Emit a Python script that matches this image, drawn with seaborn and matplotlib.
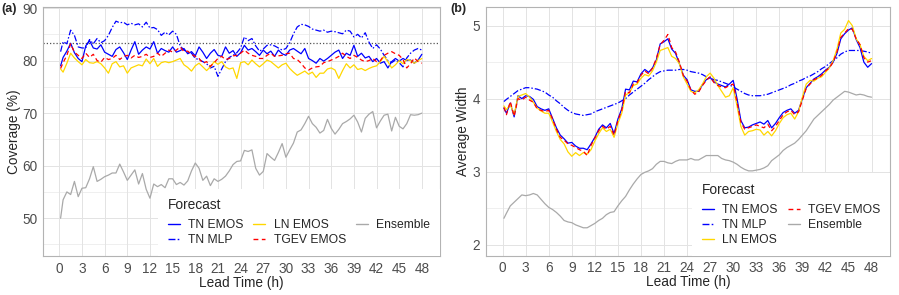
import numpy as np
import pandas as pd
import matplotlib
matplotlib.use("Agg")
import matplotlib.pyplot as plt
import seaborn as sns
from matplotlib.lines import Line2D
from matplotlib.ticker import MultipleLocator

sns.set_style("white")
plt.rcParams['font.family'] = ['Liberation Sans', 'DejaVu Sans']

# lead times (h): first value 10 min, then half-hourly to 48 h
lead = np.round(np.concatenate([[0.17], np.arange(1, 97) * 0.5]), 2)

forecasts = ["TN EMOS", "TN MLP", "LN EMOS", "TGEV EMOS", "Ensemble"]

# ---------------- panel (a): coverage (%) ----------------
cov_tn_emos = [79.0, 80.6, 81.8, 83.3, 81.5, 80.4, 79.8, 82.8, 83.8, 82.4,
               82.2, 83.0, 81.6, 81.2, 80.8, 82.1, 82.6, 81.5, 80.2, 82.0,
               83.6, 81.2, 82.0, 82.6, 82.2, 83.6, 81.4, 82.3, 81.9, 81.6,
               82.6, 81.6, 81.9, 82.3, 81.3, 81.7, 80.9, 82.6, 81.6, 80.4,
               81.4, 82.1, 81.0, 80.8, 82.6, 81.4, 81.9, 80.8, 81.5, 82.9,
               82.0, 82.3, 81.7, 81.0, 82.0, 81.3, 81.8, 80.8, 82.0, 81.3,
               81.0, 82.0, 82.3, 81.8, 81.3, 82.3, 80.4, 80.0, 79.5, 80.4,
               79.9, 80.4, 81.0, 81.6, 82.0, 80.4, 81.4, 81.0, 82.9, 80.8,
               81.4, 80.5, 80.8, 79.8, 80.4, 79.5, 79.8, 78.6, 79.8, 80.4,
               79.9, 80.4, 80.0, 80.1, 79.5, 80.1, 81.2]
cov_tn_mlp = [81.7, 83.6, 83.2, 85.8, 84.8, 82.6, 82.4, 82.4, 84.0, 83.2,
              84.2, 83.4, 83.8, 84.8, 86.3, 87.5, 87.2, 87.3, 86.8, 87.1,
              86.8, 87.0, 86.4, 87.3, 86.2, 86.3, 85.9, 84.8, 85.4, 84.9,
              85.6, 85.0, 82.8, 82.0, 81.6, 81.4, 80.4, 80.2, 79.8, 79.4,
              78.6, 78.9, 77.0, 78.4, 79.8, 80.6, 81.0, 81.5, 82.4, 84.5,
              83.8, 84.2, 82.8, 81.8, 82.2, 82.9, 83.0, 82.8, 82.4, 82.0,
              82.3, 83.4, 85.1, 86.4, 86.9, 86.8, 86.5, 86.0, 85.8, 85.6,
              85.8, 85.4, 85.6, 85.5, 85.3, 85.1, 85.8, 85.6, 84.5, 85.0,
              84.3, 85.3, 83.5, 82.3, 83.0, 82.2, 81.0, 80.0, 79.6, 80.1,
              79.6, 78.8, 80.5, 81.4, 82.0, 82.3, 82.0]
cov_ln_emos = [78.4, 77.8, 79.5, 81.4, 80.5, 79.8, 79.2, 80.2, 79.6, 79.5,
               79.8, 79.4, 78.6, 77.6, 79.4, 79.8, 78.8, 79.0, 77.6, 78.6,
               78.9, 79.2, 79.0, 80.3, 79.4, 80.4, 78.9, 79.6, 79.8, 79.6,
               79.8, 80.1, 80.4, 79.2, 78.7, 78.0, 79.0, 79.5, 78.8, 78.1,
               78.8, 79.8, 79.3, 79.8, 78.8, 78.4, 78.6, 76.6, 79.6, 79.8,
               79.2, 80.1, 79.4, 78.8, 79.4, 80.1, 79.8, 79.2, 78.6, 79.2,
               79.5, 78.5, 77.8, 77.2, 77.6, 78.0, 77.4, 77.8, 76.8, 77.6,
               77.6, 78.4, 78.6, 78.2, 76.6, 78.1, 79.4, 78.6, 79.2, 78.3,
               78.5, 78.1, 78.5, 78.8, 79.0, 79.8, 80.8, 79.8, 78.6, 79.2,
               80.0, 79.4, 80.2, 80.0, 79.5, 80.0, 80.4]
cov_tgev_emos = [78.5, 79.6, 81.0, 83.2, 81.6, 81.0, 80.4, 81.4, 80.6, 81.2,
                 80.0, 79.7, 80.6, 80.2, 80.4, 81.0, 80.2, 80.8, 81.0, 80.5,
                 81.0, 80.6, 80.8, 81.2, 80.6, 80.8, 81.4, 80.8, 81.4, 82.0,
                 81.6, 82.0, 82.6, 81.7, 81.8, 81.2, 80.8, 80.4, 79.5, 79.8,
                 78.9, 79.6, 80.4, 80.8, 80.2, 80.4, 80.9, 81.0, 81.4, 82.0,
                 81.4, 81.0, 80.8, 80.4, 80.4, 81.0, 81.4, 80.8, 80.9, 81.0,
                 81.3, 81.4, 80.4, 80.2, 79.5, 78.6, 78.2, 78.6, 78.8, 78.9,
                 79.6, 79.8, 80.1, 80.4, 80.8, 81.4, 80.8, 80.4, 81.0, 80.6,
                 80.1, 79.8, 80.0, 80.4, 79.8, 80.0, 81.0, 81.4, 81.7, 81.3,
                 81.0, 80.2, 78.6, 79.4, 80.5, 79.8, 79.5]
cov_ensemble = [50.0, 53.5, 55.0, 54.5, 57.0, 54.1, 55.7, 55.8, 57.5, 59.8,
                57.0, 57.4, 57.9, 58.2, 58.6, 58.6, 60.3, 58.8, 57.2, 58.2,
                59.2, 56.5, 58.5, 55.5, 53.8, 56.5, 56.0, 56.4, 55.8, 57.5,
                57.5, 56.4, 56.8, 56.3, 57.1, 59.0, 60.5, 59.5, 57.2, 58.0,
                56.2, 57.5, 57.0, 57.4, 58.0, 59.0, 60.2, 60.8, 60.9, 62.9,
                62.7, 63.0, 59.5, 58.2, 58.9, 62.3, 61.6, 61.0, 62.5, 64.2,
                61.6, 63.0, 64.3, 66.4, 66.8, 68.0, 69.4, 68.0, 67.3, 66.2,
                66.7, 68.8, 67.1, 66.0, 66.9, 68.0, 68.4, 68.9, 69.6, 68.3,
                66.4, 69.0, 69.8, 70.3, 67.2, 68.5, 69.6, 69.8, 66.6, 69.2,
                67.5, 67.0, 68.0, 69.7, 69.6, 69.7, 70.0]
nominal_coverage = 83.33

# ---------------- panel (b): average width ----------------
wid_tn_emos = [3.87, 3.80, 3.94, 3.75, 4.04, 4.00, 4.04, 4.03, 3.99, 3.89,
               3.86, 3.84, 3.86, 3.73, 3.60, 3.50, 3.45, 3.39, 3.40, 3.35,
               3.32, 3.32, 3.30, 3.38, 3.47, 3.58, 3.64, 3.60, 3.66, 3.52,
               3.72, 3.86, 4.13, 4.12, 4.24, 4.23, 4.34, 4.40, 4.36, 4.42,
               4.53, 4.75, 4.78, 4.82, 4.68, 4.62, 4.48, 4.32, 4.26, 4.12,
               4.10, 4.10, 4.19, 4.26, 4.29, 4.23, 4.20, 4.18, 4.16, 4.20,
               4.25, 4.00, 3.70, 3.60, 3.61, 3.64, 3.66, 3.68, 3.65, 3.70,
               3.60, 3.66, 3.74, 3.81, 3.84, 3.86, 3.80, 3.84, 4.00, 4.15,
               4.21, 4.27, 4.30, 4.34, 4.39, 4.43, 4.50, 4.62, 4.82, 4.89,
               4.94, 4.97, 4.81, 4.70, 4.50, 4.43, 4.48]
wid_tn_mlp = [3.96, 3.99, 4.03, 4.07, 4.11, 4.13, 4.15, 4.15, 4.14, 4.13,
              4.11, 4.09, 4.05, 4.02, 3.97, 3.93, 3.88, 3.84, 3.81, 3.79,
              3.78, 3.77, 3.78, 3.79, 3.82, 3.84, 3.86, 3.88, 3.90, 3.92,
              3.94, 3.97, 4.00, 4.05, 4.09, 4.13, 4.17, 4.21, 4.26, 4.30,
              4.34, 4.37, 4.38, 4.39, 4.39, 4.39, 4.40, 4.40, 4.39, 4.37,
              4.36, 4.35, 4.33, 4.30, 4.28, 4.26, 4.25, 4.23, 4.21, 4.19,
              4.16, 4.13, 4.10, 4.07, 4.05, 4.04, 4.04, 4.04, 4.05, 4.06,
              4.08, 4.10, 4.12, 4.14, 4.16, 4.19, 4.21, 4.24, 4.26, 4.29,
              4.31, 4.34, 4.37, 4.41, 4.44, 4.48, 4.52, 4.56, 4.61, 4.64,
              4.66, 4.66, 4.66, 4.66, 4.65, 4.64, 4.62]
wid_ln_emos = [3.90, 3.85, 3.92, 3.78, 4.03, 4.05, 4.07, 4.02, 3.95, 3.87,
               3.83, 3.80, 3.80, 3.68, 3.55, 3.44, 3.38, 3.27, 3.21, 3.26,
               3.22, 3.26, 3.24, 3.30, 3.42, 3.52, 3.60, 3.55, 3.58, 3.47,
               3.66, 3.80, 4.05, 4.08, 4.18, 4.20, 4.28, 4.33, 4.31, 4.38,
               4.50, 4.66, 4.68, 4.70, 4.58, 4.55, 4.48, 4.30, 4.20, 4.10,
               4.08, 4.12, 4.20, 4.30, 4.35, 4.28, 4.18, 4.10, 4.02, 4.04,
               4.15, 3.90, 3.62, 3.50, 3.55, 3.56, 3.58, 3.57, 3.50, 3.55,
               3.49, 3.56, 3.66, 3.74, 3.78, 3.80, 3.72, 3.82, 4.02, 4.20,
               4.25, 4.24, 4.28, 4.30, 4.36, 4.42, 4.52, 4.68, 4.90, 4.95,
               5.07, 5.00, 4.82, 4.74, 4.58, 4.52, 4.55]
wid_tgev_emos = [3.88, 3.78, 3.96, 3.76, 4.00, 3.98, 4.02, 3.98, 3.95, 3.86,
                 3.84, 3.82, 3.84, 3.72, 3.58, 3.47, 3.43, 3.38, 3.36, 3.33,
                 3.30, 3.28, 3.22, 3.36, 3.46, 3.56, 3.62, 3.58, 3.62, 3.50,
                 3.70, 3.84, 4.10, 4.08, 4.20, 4.22, 4.32, 4.38, 4.34, 4.42,
                 4.55, 4.74, 4.80, 4.88, 4.70, 4.64, 4.50, 4.32, 4.24, 4.12,
                 4.06, 4.09, 4.18, 4.25, 4.30, 4.22, 4.18, 4.16, 4.15, 4.18,
                 4.20, 3.95, 3.68, 3.58, 3.60, 3.62, 3.64, 3.62, 3.60, 3.65,
                 3.56, 3.62, 3.70, 3.78, 3.82, 3.84, 3.78, 3.82, 3.98, 4.14,
                 4.20, 4.26, 4.28, 4.32, 4.38, 4.42, 4.50, 4.64, 4.84, 4.90,
                 4.96, 4.95, 4.82, 4.74, 4.56, 4.50, 4.52]
wid_ensemble = [2.36, 2.43, 2.53, 2.58, 2.63, 2.68, 2.67, 2.68, 2.70, 2.68,
                2.62, 2.56, 2.51, 2.48, 2.44, 2.39, 2.33, 2.31, 2.30, 2.27,
                2.25, 2.23, 2.23, 2.26, 2.29, 2.33, 2.36, 2.41, 2.44, 2.45,
                2.53, 2.60, 2.66, 2.75, 2.83, 2.90, 2.96, 2.99, 3.01, 3.04,
                3.10, 3.14, 3.14, 3.12, 3.11, 3.14, 3.16, 3.16, 3.16, 3.18,
                3.16, 3.16, 3.19, 3.22, 3.22, 3.22, 3.22, 3.18, 3.16, 3.15,
                3.13, 3.10, 3.06, 3.03, 3.01, 3.01, 3.02, 3.03, 3.05, 3.08,
                3.15, 3.19, 3.23, 3.29, 3.33, 3.36, 3.39, 3.44, 3.50, 3.56,
                3.64, 3.72, 3.77, 3.82, 3.87, 3.92, 3.98, 4.02, 4.06, 4.10,
                4.09, 4.07, 4.05, 4.06, 4.05, 4.03, 4.02]

x_ticks = list(range(0, 49, 3))

palette = {"TN EMOS": "#0000FF", "TN MLP": "#0000FF", "LN EMOS": "#FFD700",
           "TGEV EMOS": "#FF0000", "Ensemble": "#A9A9A9"}
dash_map = {"TN EMOS": "", "TN MLP": (5, 1.6, 1.2, 1.6), "LN EMOS": "",
            "TGEV EMOS": (3.5, 2.5), "Ensemble": ""}


def long_frame(series):
    frames = []
    for name, vals in zip(forecasts, series):
        n = min(len(vals), len(lead))
        frames.append(pd.DataFrame({"lead": lead[:n], "value": vals[:n], "Forecast": name}))
    return pd.concat(frames, ignore_index=True)


df_a = long_frame([cov_tn_emos, cov_tn_mlp, cov_ln_emos, cov_tgev_emos, cov_ensemble])
df_b = long_frame([wid_tn_emos, wid_tn_mlp, wid_ln_emos, wid_tgev_emos, wid_ensemble])

fig = plt.figure(figsize=(8.99, 2.95), dpi=100)
ax_a = fig.add_axes([42.7 / 899, 1 - 256 / 295, (440 - 42.7) / 899, (256 - 7) / 295])
ax_b = fig.add_axes([485.7 / 899, 1 - 255.5 / 295, (890 - 485.7) / 899, (255.5 - 7) / 295])

grid_col = "#E3E3E3"
tick_col = "#4D4D4D"
for ax, df in ((ax_a, df_a), (ax_b, df_b)):
    sns.lineplot(data=df, x="lead", y="value", hue="Forecast", style="Forecast",
                 hue_order=forecasts, style_order=forecasts, palette=palette,
                 dashes=dash_map, linewidth=0.9, legend=False, ax=ax,
                 estimator=None, sort=False, zorder=3)
    ax.set_xlim(-2.2, 50.4)
    ax.set_xticks(x_ticks)
    ax.set_xticklabels([str(t) for t in x_ticks])
    ax.grid(True, which="major", color=grid_col, linewidth=0.7, zorder=0)
    ax.grid(True, which="minor", axis="y", color=grid_col, linewidth=0.4, zorder=0)
    ax.set_axisbelow(True)
    for sp in ax.spines.values():
        sp.set_color("#B3B3B3")
        sp.set_linewidth(0.8)
    ax.tick_params(axis="both", which="major", length=2.5, width=0.5, color="#B3B3B3",
                   labelsize=9.8, labelcolor=tick_col, pad=1.5)
    ax.tick_params(axis="both", which="minor", length=0)
    ax.set_xlabel("Lead Time (h)", fontsize=9.8, labelpad=0)

ax_a.set_ylim(42.8, 90.2)
ax_a.set_yticks([50, 60, 70, 80, 90])
ax_a.yaxis.set_minor_locator(MultipleLocator(5))
ax_a.axhline(nominal_coverage, color="#555555", linestyle=(0, (1, 1.6)), linewidth=0.9, zorder=2)
ax_a.set_ylabel("Coverage (%)", fontsize=9.8, labelpad=0.5)

ax_b.set_ylim(1.85, 5.256)
ax_b.set_yticks([2, 3, 4, 5])
ax_b.yaxis.set_minor_locator(MultipleLocator(0.5))
ax_b.set_ylabel("Average Width", fontsize=9.8, labelpad=1.5)


def handles():
    return [Line2D([0], [0], color=palette[f], linewidth=1.0,
                   linestyle=("-" if dash_map[f] == "" else (0, dash_map[f])))
            for f in forecasts]


leg_kw = dict(title="Forecast", loc="lower right", bbox_to_anchor=(1, 0),
              frameon=True, facecolor="white", edgecolor="none", fancybox=False,
              framealpha=1, fontsize=8.7, title_fontsize=9.9, handlelength=1.0,
              handletextpad=0.7, columnspacing=0.8, labelspacing=0.25,
              borderpad=0.8, borderaxespad=0, alignment="left")
leg_a = ax_a.legend(handles(), forecasts, ncol=3, **leg_kw)
leg_a.set_zorder(10)
leg_a._legend_box.sep = 5
leg_b = ax_b.legend(handles(), forecasts, ncol=2, **leg_kw)
leg_b.set_zorder(10)
leg_b._legend_box.sep = 5

fig.text(1.5 / 899, 1 - 9 / 295, "(a)", fontsize=9, fontweight="bold", va="center", ha="left")
fig.text(450 / 899, 1 - 9 / 295, "(b)", fontsize=9, fontweight="bold", va="center", ha="left")

fig.savefig("out.png", dpi=100)
